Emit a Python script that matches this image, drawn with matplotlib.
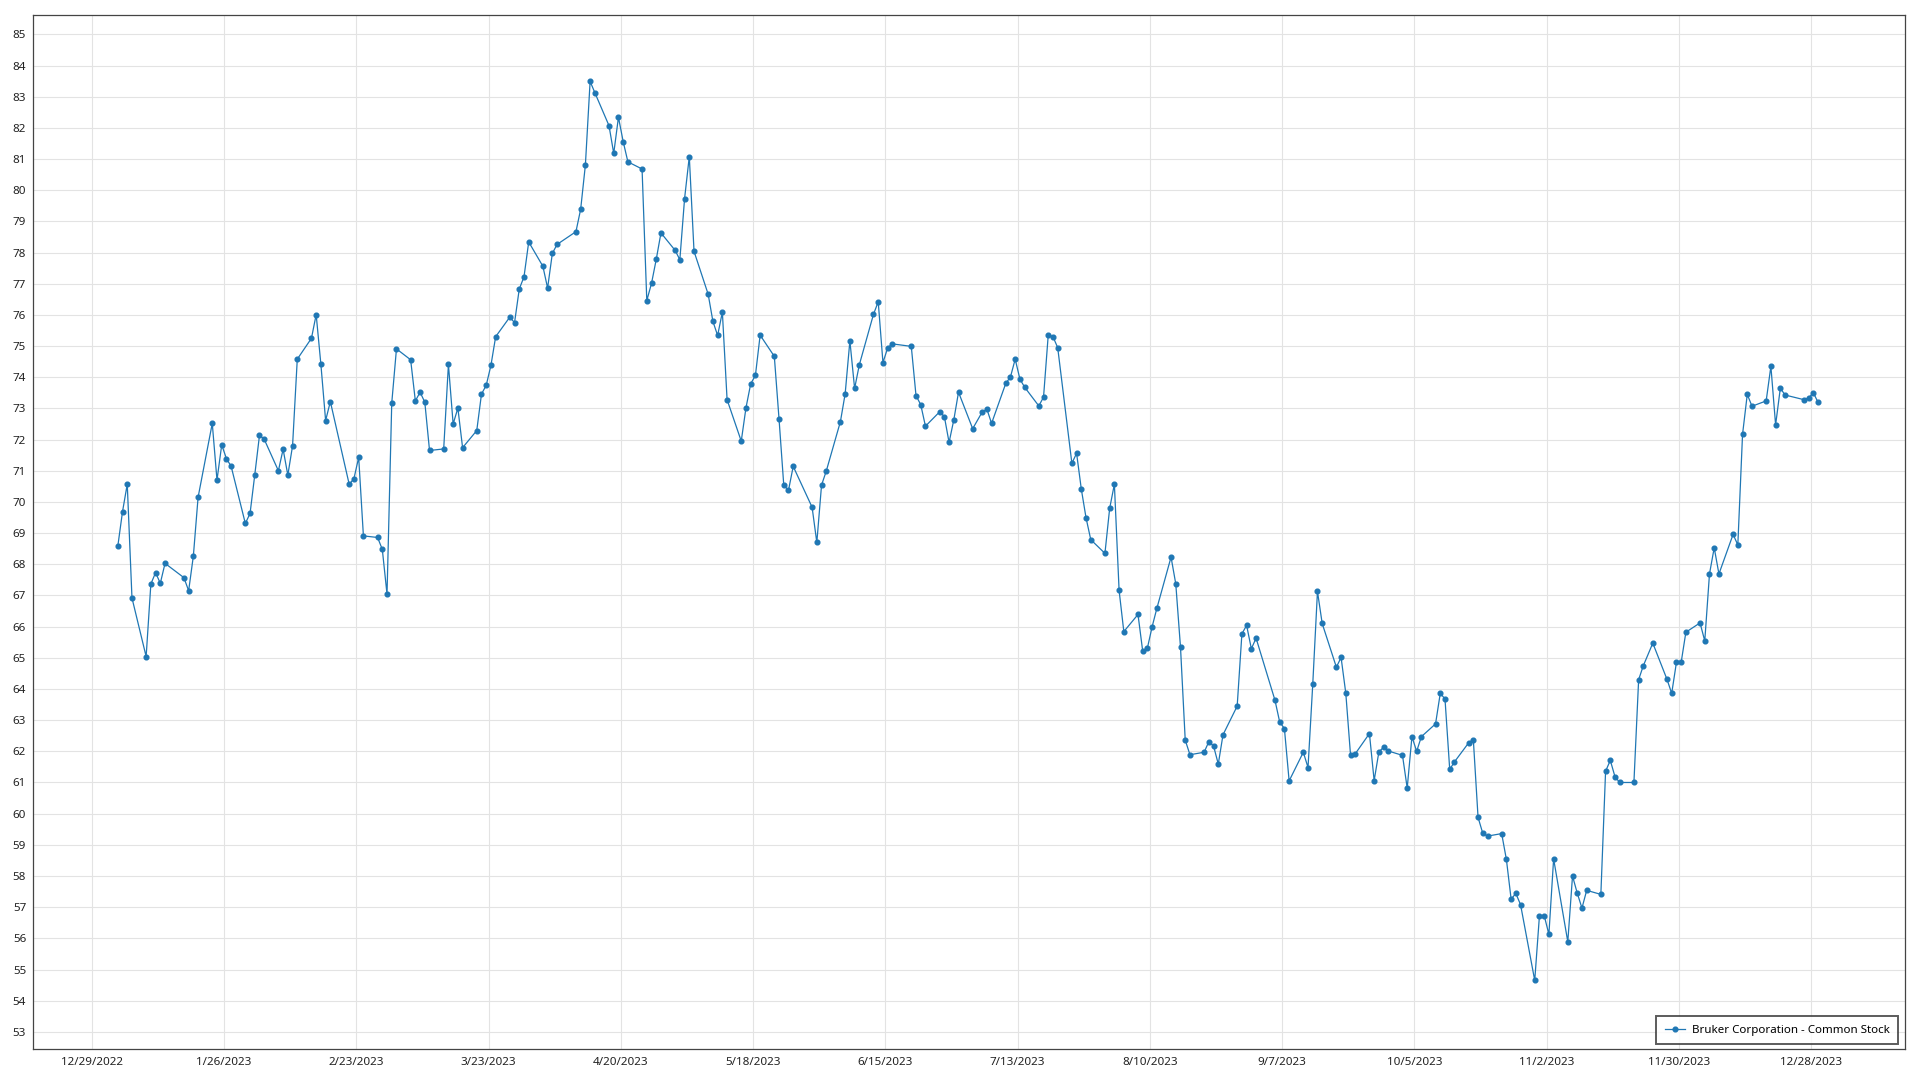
import numpy as np
import pandas as pd
import matplotlib
matplotlib.use("Agg")
import matplotlib.pyplot as plt
import matplotlib.dates as mdates

plt.rcParams['font.family'] = ['Noto Sans', 'DejaVu Sans']

# NYSE holidays of 2023 (trading calendar for the series)
holidays = ["2023-01-16", "2023-02-20", "2023-04-07", "2023-05-29", "2023-06-19",
            "2023-07-04", "2023-09-04", "2023-11-23", "2023-12-25"]

# closing prices (one per trading day)
prices = [
    68.58, 69.69, 70.57, 66.92, 65.04, 67.37, 67.73, 67.39, 68.03, 67.57,
    67.15, 68.27, 70.15, 72.52, 70.70, 71.83, 71.39, 71.14, 69.31, 69.63,
    70.87, 72.14, 72.01, 71.00, 71.69, 70.86, 71.80, 74.58, 75.25, 76.01,
    74.41, 72.61, 73.22, 70.56, 70.75, 71.43, 68.91, 68.86, 68.48, 67.04,
    73.17, 74.91, 74.56, 73.24, 73.52, 73.20, 71.65, 71.70, 74.41, 72.50,
    73.01, 71.74, 72.29, 73.46, 73.74, 74.38, 75.30, 75.93, 75.75, 76.83,
    77.22, 78.34, 77.56, 76.86, 77.97, 78.26, 78.67, 79.39, 80.81, 83.49,
    83.13, 82.07, 81.18, 82.34, 81.56, 80.91, 80.68, 76.46, 77.01, 77.78,
    78.63, 78.07, 77.77, 79.73, 81.08, 78.04, 76.66, 75.79, 75.34, 76.09,
    73.28, 71.95, 73.02, 73.79, 74.06, 75.35, 74.67, 72.66, 70.54, 70.37,
    71.14, 69.83, 68.70, 70.54, 70.99, 72.58, 73.47, 75.17, 73.64, 74.40,
    76.02, 76.42, 74.47, 74.94, 75.07, 74.99, 73.41, 73.12, 72.43, 72.89,
    72.74, 71.91, 72.63, 73.52, 72.35, 72.88, 72.98, 72.52, 73.80, 74.01,
    74.58, 73.94, 73.68, 73.08, 73.36, 75.36, 75.30, 74.95, 71.24, 71.56,
    70.41, 69.49, 68.79, 68.35, 69.79, 70.57, 67.16, 65.84, 66.39, 65.21,
    65.32, 66.00, 66.59, 68.23, 67.37, 65.34, 62.36, 61.89, 61.97, 62.31,
    62.17, 61.59, 62.53, 63.45, 65.77, 66.04, 65.29, 65.63, 63.64, 62.94,
    62.73, 61.05, 61.97, 61.48, 64.15, 67.13, 66.10, 64.70, 65.01, 63.86,
    61.88, 61.92, 62.57, 61.06, 61.98, 62.13, 62.01, 61.87, 60.82, 62.47,
    62.00, 62.47, 62.88, 63.86, 63.68, 61.42, 61.66, 62.27, 62.37, 59.88,
    59.37, 59.28, 59.36, 58.53, 57.26, 57.44, 57.08, 54.65, 56.73, 56.73,
    56.13, 58.55, 55.89, 58.00, 57.45, 56.97, 57.54, 57.41, 61.36, 61.71,
    61.18, 61.00, 61.00, 64.30, 64.75, 65.47, 64.31, 63.86, 64.85, 64.85,
    65.82, 66.12, 65.54, 67.69, 68.53, 67.69, 68.96, 68.62, 72.17, 73.45,
    73.07, 73.24, 74.35, 72.47, 73.65, 73.43, 73.28, 73.34, 73.50, 73.19,
]

tick_dates = pd.date_range("2022-12-29", periods=14, freq="28D")
tick_labels = [f"{d.month}/{d.day}/{d.year}" for d in tick_dates]
y_ticks = np.arange(53, 86, 1)

dates = pd.bdate_range("2023-01-03", "2023-12-29", freq="C", holidays=holidays)
dates = dates + pd.Timedelta(hours=12)

line_color = "#1f77b4"

fig = plt.figure(figsize=(19.2, 10.8), dpi=100)
ax = fig.add_axes([0.0172, 0.0287, 0.975, 0.9574])

ax.plot(dates, prices, color=line_color, linewidth=0.9, marker="o",
        markersize=3.4, label="Bruker Corporation - Common Stock", zorder=3)

start = mdates.date2num(tick_dates[0])
ax.set_xlim(start - 12.45, start + 383.9)
ax.set_ylim(52.45, 85.62)

ax.set_xticks(tick_dates)
ax.set_xticklabels(tick_labels)
ax.set_yticks(y_ticks)
ax.set_yticklabels([str(v) for v in y_ticks])
ax.tick_params(axis="both", length=0, labelsize=8.4, colors="#222222")
ax.tick_params(axis="x", pad=6)
ax.tick_params(axis="y", pad=5)

ax.grid(True, color="#e3e3e3", linewidth=0.8)
ax.set_axisbelow(True)
for sp in ax.spines.values():
    sp.set_color("#444444")
    sp.set_linewidth(0.9)

leg = ax.legend(loc="lower right", fontsize=8.3, frameon=True, fancybox=False,
                borderpad=0.75, handlelength=1.7, handletextpad=0.6,
                borderaxespad=0, bbox_to_anchor=(0.9963, 0.0044))
leg.get_frame().set_edgecolor("#333333")
leg.get_frame().set_linewidth(1.4)

fig.savefig("out.png", dpi=100)
